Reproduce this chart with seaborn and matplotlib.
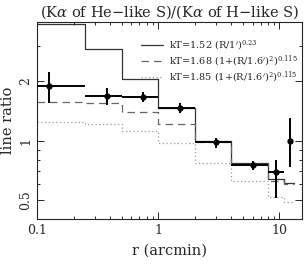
import numpy as np
import pandas as pd
import matplotlib
matplotlib.use("Agg")
import matplotlib.pyplot as plt
from matplotlib.ticker import FixedLocator, NullFormatter, FixedFormatter
import seaborn as sns

# ---- data ----
edges = [0.1, 0.25, 0.5, 1.0, 2.0, 4.0, 8.0, 11.0, 13.3]
model_a = [3.9, 2.93, 2.05, 1.46, 0.99, 0.77, 0.64, 0.61]   # kT=1.52 power law
model_b = [1.57, 1.55, 1.40, 1.22, 0.98, 0.76, 0.62, 0.60]  # kT=1.68 beta
model_c = [1.245, 1.22, 1.12, 0.966, 0.77, 0.62, 0.52, 0.49]  # kT=1.85 beta

r_obs = [0.125, 0.38, 0.75, 1.5, 3.0, 6.0, 9.4, 12.3]
r_lo = [0.1, 0.25, 0.5, 1.0, 2.0, 4.0, 8.0, 11.9]
r_hi = [0.25, 0.5, 1.0, 2.0, 4.0, 8.0, 11.0, 12.7]
ratio = [1.89, 1.68, 1.66, 1.46, 0.98, 0.75, 0.69, 1.0]
ratio_lo = [1.55, 1.51, 1.57, 1.38, 0.92, 0.71, 0.51, 0.73]
ratio_hi = [2.24, 1.85, 1.76, 1.55, 1.035, 0.79, 0.80, 1.30]

labels = [r"kT=1.52 (R/1$'$)$^{0.23}$",
          r"kT=1.68 (1+(R/1.6$'$)$^2$)$^{0.115}$",
          r"kT=1.85 (1+(R/1.6$'$)$^2$)$^{0.115}$"]

sns.set_style("ticks")
plt.rcParams["font.family"] = ["DejaVu Serif"]
plt.rcParams["mathtext.fontset"] = "dejavuserif"

fig = plt.figure(figsize=(3.04, 2.70), dpi=100)
ax = fig.add_axes([0.122, 0.189, 0.873, 0.730])

styles = [("-", "#333333", 0.9), ((0, (6, 4)), "#666666", 0.9), ((0, (1, 2)), "#999999", 0.9)]
for vals, lab, (ls, col, lw) in zip([model_a, model_b, model_c], labels, styles):
    df = pd.DataFrame({"r": edges, "v": vals + [vals[-1]]})
    sns.lineplot(data=df, x="r", y="v", drawstyle="steps-post", ax=ax,
                 color=col, linestyle=ls, linewidth=lw, label=lab, sort=False)

r_obs_a = np.array(r_obs)
ratio_a = np.array(ratio)
xerr = [r_obs_a - np.array(r_lo), np.array(r_hi) - r_obs_a]
yerr = [ratio_a - np.array(ratio_lo), np.array(ratio_hi) - ratio_a]
ax.errorbar(r_obs, ratio, xerr=xerr, yerr=yerr, fmt="o", color="black",
            ms=3.5, elinewidth=1.4, capsize=0, zorder=5)

ax.set_xscale("log")
ax.set_yscale("log")
ax.set_xlim(0.1, 15.5)
ax.set_ylim(0.4, 4.0)

ax.xaxis.set_major_locator(FixedLocator([0.1, 1, 10]))
ax.xaxis.set_major_formatter(FixedFormatter(["0.1", "1", "10"]))
ax.yaxis.set_major_locator(FixedLocator([0.5, 1, 2]))
ax.yaxis.set_major_formatter(FixedFormatter(["0.5", "1", "2"]))
ax.yaxis.set_minor_locator(FixedLocator([0.4, 0.6, 0.7, 0.8, 0.9, 3, 4]))
ax.yaxis.set_minor_formatter(NullFormatter())
ax.tick_params(which="both", direction="in", top=True, right=True,
               labelsize=9, width=0.7)
ax.tick_params(which="major", length=5)
ax.tick_params(which="minor", length=2.5)
for lbl in ax.get_yticklabels():
    lbl.set_rotation(90)
    lbl.set_va("center")
for sp in ax.spines.values():
    sp.set_linewidth(0.8)

ax.set_xlabel("r (arcmin)", fontsize=10.5, labelpad=5)
ax.set_ylabel("line ratio", fontsize=10.5, labelpad=3)
ax.set_title(r"(K$\alpha$ of He$-$like S)/(K$\alpha$ of H$-$like S)", fontsize=10.5, pad=4)

leg = ax.legend(loc="upper right", frameon=False, fontsize=7.0, handlelength=2.2,
                handletextpad=0.6, borderaxespad=0.1, labelspacing=0.1,
                bbox_to_anchor=(1.0, 0.94))

fig.savefig("out.png", dpi=100)
